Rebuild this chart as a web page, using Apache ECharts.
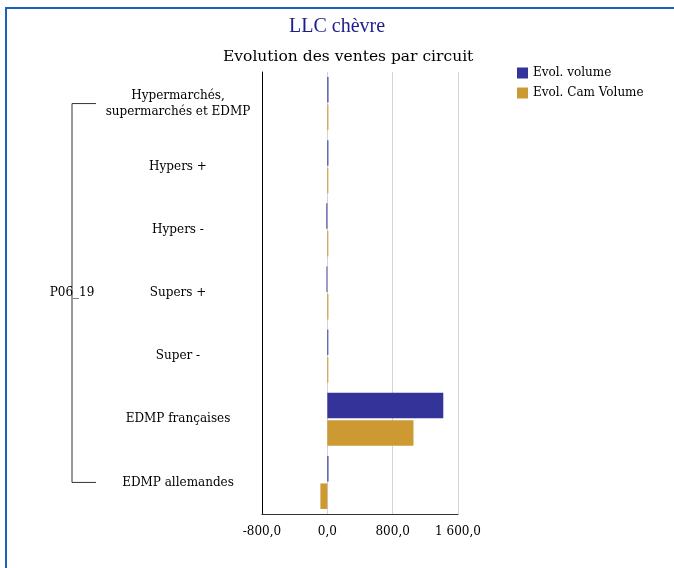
<!DOCTYPE html>
<html><head><meta charset="utf-8">
<script src="https://cdn.jsdelivr.net/npm/echarts@6/dist/echarts.min.js"></script>
<style>html,body{margin:0;padding:0;background:#fff}#c{width:674px;height:568px}
#frame{position:absolute;left:5px;top:7px;width:700px;height:600px;border-left:2px solid #1a62b8;border-top:2px solid #1a62b8;pointer-events:none}</style>
</head><body><div id="c"></div><div id="frame"></div>
<script>
const categories = ['Hypermarchés,\nsupermarchés et EDMP','Hypers +','Hypers -','Supers +','Super -','EDMP françaises','EDMP allemandes'];
const groupLabel = 'P06_19';
const volume = [14, 13, -12, -10, 12, 1420, 14];
const camVolume = [13, 12, 12, 13, 12, 1055, -85];
const seriesNames = ['Evol. volume','Evol. Cam Volume'];
const xTicks = {min: -800, max: 1600, interval: 800};

const font = 'DejaVu Serif';
const chart = echarts.init(document.getElementById('c'));
function fmt(v){
  const neg = v < 0; const a = Math.abs(v);
  const s = a.toFixed(1).split('.');
  const int = s[0].replace(/\B(?=(\d{3})+(?!\d))/g, ' ');
  return (neg?'-':'') + int + ',' + s[1];
}
chart.setOption({
  animation:false,
  title:[
    {text:'LLC chèvre', left:284, top:12, textStyle:{fontFamily:'Liberation Serif', fontSize:20, fontWeight:'normal', color:'#1c1c8c'}},
    {text:'Evolution des ventes par circuit', left:218, top:44, textStyle:{fontFamily:font, fontSize:15.5, fontWeight:'normal', color:'#000'}}
  ],
  legend:{orient:'vertical', left:517, top:67, padding:0, itemWidth:11, itemHeight:11, itemGap:8, icon:'rect',
    textStyle:{fontFamily:font, fontSize:12, color:'#000'}, data:seriesNames},
  grid:{left:262, right:216, top:72, bottom:54, containLabel:false},
  xAxis:{type:'value', min:xTicks.min, max:xTicks.max, interval:xTicks.interval,
    axisLine:{show:true, lineStyle:{color:'#333'}}, axisTick:{show:false},
    splitLine:{show:true, lineStyle:{color:'#d4d4d4', width:1}},
    axisLabel:{fontFamily:font, fontSize:12, color:'#000', margin:12, formatter:fmt}},
  yAxis:{type:'category', inverse:true, data:categories,
    axisLine:{show:true, onZero:false, lineStyle:{color:'#000'}}, axisTick:{show:false},
    axisLabel:{fontFamily:font, fontSize:12, color:'#000', align:'center', margin:84, lineHeight:16}},
  series:[
    {name:seriesNames[0], type:'bar', data:volume, itemStyle:{color:'#333399'}, barGap:'8%', barCategoryGap:'16%'},
    {name:seriesNames[1], type:'bar', data:camVolume, itemStyle:{color:'#CC9933'}}
  ]
});
const yTop = chart.convertToPixel({yAxisIndex:0}, 0);
const yBot = chart.convertToPixel({yAxisIndex:0}, categories.length-1);
const yMid = chart.convertToPixel({yAxisIndex:0}, 3);
const bx = 72, bx2 = 96;
chart.setOption({graphic:[
  {type:'polyline', shape:{points:[[bx2,yTop],[bx,yTop],[bx,yBot],[bx2,yBot]]}, style:{stroke:'#333', lineWidth:1, fill:null}, silent:true},
  {type:'text', x:bx, y:yMid, style:{text:groupLabel, fontFamily:font, fontSize:12, fill:'#000', align:'center', verticalAlign:'middle'}, z:10}
]});
</script></body></html>
